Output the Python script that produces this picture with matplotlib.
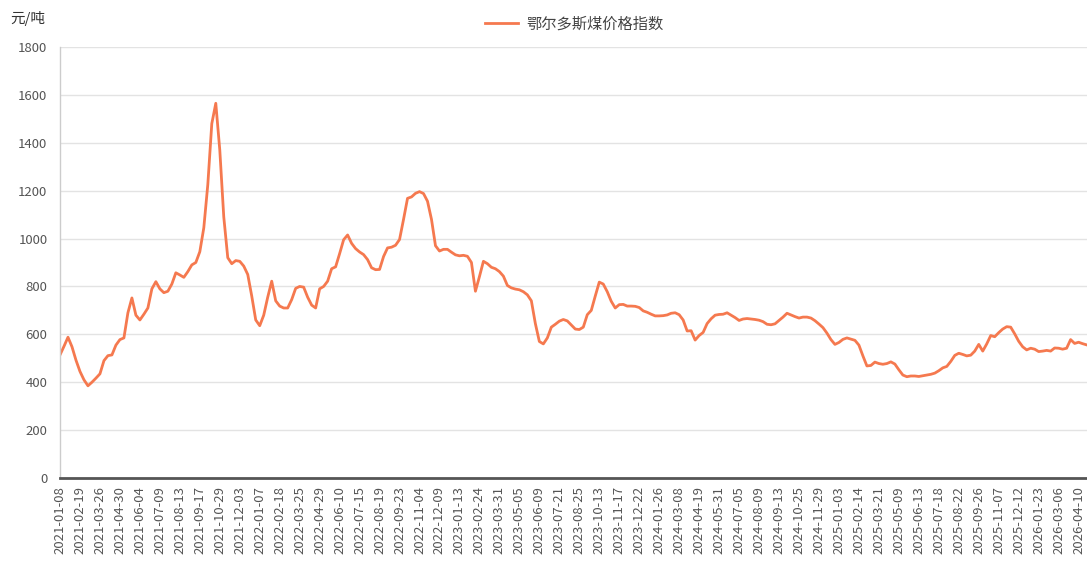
import matplotlib
matplotlib.use("Agg")
from matplotlib import pyplot as plt

plt.rcParams['font.family'] = ['Noto Sans CJK SC', 'DejaVu Sans']

# tick labels, one every 5 weekly points
tick_labels = ['2021-01-08', '2021-02-19', '2021-03-26', '2021-04-30', '2021-06-04', '2021-07-09',
               '2021-08-13', '2021-09-17', '2021-10-29', '2021-12-03', '2022-01-07', '2022-02-18',
               '2022-03-25', '2022-04-29', '2022-06-10', '2022-07-15', '2022-08-19', '2022-09-23',
               '2022-11-04', '2022-12-09', '2023-01-13', '2023-02-24', '2023-03-31', '2023-05-05',
               '2023-06-09', '2023-07-21', '2023-08-25', '2023-10-13', '2023-11-17', '2023-12-22',
               '2024-01-26', '2024-03-08', '2024-04-19', '2024-05-31', '2024-07-05', '2024-08-09',
               '2024-09-13', '2024-10-25', '2024-11-29', '2025-01-03', '2025-02-14', '2025-03-21',
               '2025-05-09', '2025-06-13', '2025-07-18', '2025-08-22', '2025-09-26', '2025-11-07',
               '2025-12-12', '2026-01-23', '2026-03-06', '2026-04-10']
tick_step = 5

# 鄂尔多斯煤价格指数 (元/吨), weekly, one row per tick label
price = [514, 550, 588, 548, 492,
         445, 410, 385, 400, 417,
         435, 490, 511, 514, 555,
         578, 585, 690, 752, 680,
         660, 684, 710, 790, 820,
         790, 774, 780, 810, 857,
         848, 838, 862, 890, 900,
         945, 1045, 1225, 1480, 1565,
         1370, 1090, 920, 895, 908,
         905, 885, 850, 760, 660,
         636, 680, 755, 822, 740,
         718, 710, 710, 745, 792,
         800, 797, 755, 722, 710,
         790, 800, 822, 874, 882,
         937, 995, 1015, 980, 958,
         944, 933, 912, 878, 870,
         871, 925, 961, 964, 972,
         996, 1080, 1168, 1174, 1189,
         1196, 1188, 1156, 1080, 970,
         948, 955, 955, 943, 932,
         928, 930, 926, 900, 780,
         841, 905, 895, 880, 874,
         862, 843, 804, 794, 789,
         786, 778, 765, 740, 645,
         570, 560, 585, 630, 642,
         655, 662, 656, 639, 622,
         620, 630, 682, 700, 760,
         818, 810, 778, 738, 710,
         724, 725, 718, 718, 717,
         712, 698, 692, 684, 677,
         677, 678, 681, 688, 690,
         682, 660, 614, 615, 576,
         595, 608, 645, 665, 680,
         683, 684, 690, 680, 670,
         658, 664, 666, 664, 662,
         659, 653, 642, 640, 644,
         658, 672, 688, 681, 674,
         668, 672, 672, 668, 657,
         643, 628, 605, 578, 558,
         566, 579, 585, 580, 575,
         555, 510, 468, 470, 484,
         478, 475, 478, 485, 476,
         452, 430, 423, 426, 426,
         424, 427, 430, 433, 438,
         448, 460, 466, 487, 512,
         521, 516, 510, 513, 530,
         558, 530, 560, 595, 590,
         607, 622, 632, 630, 602,
         571, 548, 535, 542, 538,
         528, 530, 533, 530, 543,
         542, 538, 542, 578, 562,
         567, 561, 556]

line_color = '#F5794F'
grid_color = '#E3E3E3'
text_color = '#555555'

fig = plt.figure(figsize=(10.87, 5.77), dpi=100)
ax = fig.add_axes([0.0552, 0.1716, 0.9448, 0.7469])

ax.plot(range(len(price)), price, color=line_color, lw=2.0,
        solid_joinstyle='round', label='鄂尔多斯煤价格指数')

ax.set_ylim(0, 1800)
ax.set_yticks(range(0, 1801, 200))
ax.set_xlim(0, len(price) - 0.9)
ax.set_xticks(range(0, len(tick_labels) * tick_step, tick_step))
ax.set_xticklabels(tick_labels, rotation=90)

ax.grid(axis='y', color=grid_color, lw=1)
ax.set_axisbelow(True)
ax.tick_params(length=0, labelsize=9.5, labelcolor=text_color)
ax.tick_params(axis='y', pad=9)
ax.tick_params(axis='x', pad=6)

for s in ['top', 'right']:
    ax.spines[s].set_visible(False)
ax.spines['left'].set_color('#CCCCCC')
ax.spines['left'].set_linewidth(1)
ax.spines['bottom'].set_color('#555555')
ax.spines['bottom'].set_linewidth(2)

fig.text(0.009, 0.968, '元/吨', fontsize=10.5, color='#333333', va='center')
fig.legend(loc='center', bbox_to_anchor=(0.528, 0.958), frameon=False,
           fontsize=11, handlelength=2.2, handletextpad=0.5,
           labelcolor='#444444')

fig.savefig('out.png', dpi=100)
